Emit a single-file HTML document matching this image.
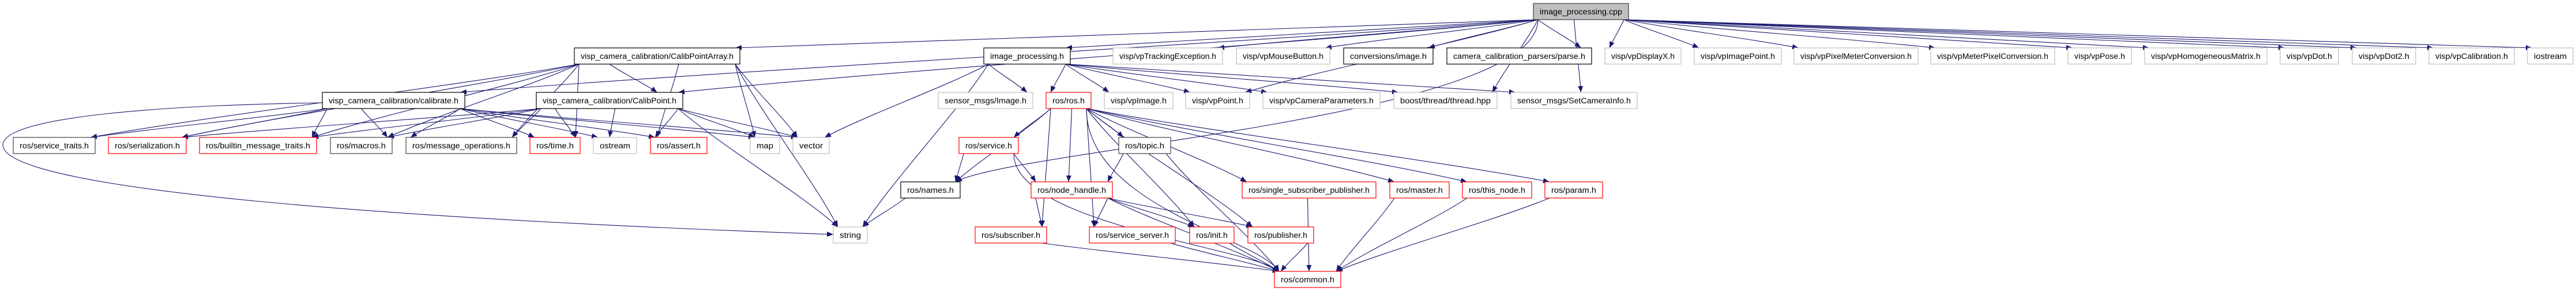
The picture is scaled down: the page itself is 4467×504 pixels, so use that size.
<!DOCTYPE html>
<html><head><meta charset="utf-8"><style>
html,body{margin:0;padding:0;background:#fff;}
svg{display:block;}
text{font-family:"Liberation Sans",Arial,sans-serif;font-size:13.5px;fill:#000;}
</style></head><body>
<svg id="g" width="4467" height="504" viewBox="0 0 4467 504" xmlns="http://www.w3.org/2000/svg">
<defs><marker id="ah" markerUnits="userSpaceOnUse" markerWidth="12" markerHeight="9" refX="11" refY="4.5" orient="auto"><path d="M0,0 L11,4.5 L0,9 z" fill="#191970"/></marker></defs>
<g fill="none" stroke="#191970" stroke-width="1.1"><path d="M559,178 C300,182 10,200 5,250 C0,330 700,380 1445,406" marker-end="url(#ah)"/></g>
<g id="edges" fill="none" stroke="#191970" stroke-width="1.1"></g>
<g id="nodes" stroke-width="1.2">
<rect x="2659" y="6" width="165" height="28" fill="#bfbfbf" stroke="#404040"/><text x="2670" y="25" textLength="143" lengthAdjust="spacingAndGlyphs">image_processing.cpp</text>
<rect x="996" y="83" width="287" height="28" fill="#fff" stroke="#000"/><text x="1007" y="102" textLength="265" lengthAdjust="spacingAndGlyphs">visp_camera_calibration/CalibPointArray.h</text>
<rect x="1706" y="83" width="150" height="28" fill="#fff" stroke="#000"/><text x="1717" y="102" textLength="128" lengthAdjust="spacingAndGlyphs">image_processing.h</text>
<rect x="1930" y="83" width="190" height="28" fill="#fff" stroke="#bfbfbf"/><text x="1941" y="102" textLength="168" lengthAdjust="spacingAndGlyphs">visp/vpTrackingException.h</text>
<rect x="2144" y="83" width="162" height="28" fill="#fff" stroke="#bfbfbf"/><text x="2155" y="102" textLength="140" lengthAdjust="spacingAndGlyphs">visp/vpMouseButton.h</text>
<rect x="2330" y="83" width="155" height="28" fill="#fff" stroke="#000"/><text x="2341" y="102" textLength="133" lengthAdjust="spacingAndGlyphs">conversions/image.h</text>
<rect x="2509" y="83" width="251" height="28" fill="#fff" stroke="#000"/><text x="2520" y="102" textLength="229" lengthAdjust="spacingAndGlyphs">camera_calibration_parsers/parse.h</text>
<rect x="2783" y="83" width="132" height="28" fill="#fff" stroke="#bfbfbf"/><text x="2794" y="102" textLength="110" lengthAdjust="spacingAndGlyphs">visp/vpDisplayX.h</text>
<rect x="2938" y="83" width="151" height="28" fill="#fff" stroke="#bfbfbf"/><text x="2949" y="102" textLength="129" lengthAdjust="spacingAndGlyphs">visp/vpImagePoint.h</text>
<rect x="3111" y="83" width="215" height="28" fill="#fff" stroke="#bfbfbf"/><text x="3122" y="102" textLength="193" lengthAdjust="spacingAndGlyphs">visp/vpPixelMeterConversion.h</text>
<rect x="3348" y="83" width="215" height="28" fill="#fff" stroke="#bfbfbf"/><text x="3359" y="102" textLength="193" lengthAdjust="spacingAndGlyphs">visp/vpMeterPixelConversion.h</text>
<rect x="3586" y="83" width="110" height="28" fill="#fff" stroke="#bfbfbf"/><text x="3597" y="102" textLength="88" lengthAdjust="spacingAndGlyphs">visp/vpPose.h</text>
<rect x="3719" y="83" width="212" height="28" fill="#fff" stroke="#bfbfbf"/><text x="3730" y="102" textLength="190" lengthAdjust="spacingAndGlyphs">visp/vpHomogeneousMatrix.h</text>
<rect x="3954" y="83" width="101" height="28" fill="#fff" stroke="#bfbfbf"/><text x="3965" y="102" textLength="79" lengthAdjust="spacingAndGlyphs">visp/vpDot.h</text>
<rect x="4079" y="83" width="110" height="28" fill="#fff" stroke="#bfbfbf"/><text x="4090" y="102" textLength="88" lengthAdjust="spacingAndGlyphs">visp/vpDot2.h</text>
<rect x="4212" y="83" width="148" height="28" fill="#fff" stroke="#bfbfbf"/><text x="4223" y="102" textLength="126" lengthAdjust="spacingAndGlyphs">visp/vpCalibration.h</text>
<rect x="4383" y="83" width="79" height="28" fill="#fff" stroke="#bfbfbf"/><text x="4394" y="102" textLength="57" lengthAdjust="spacingAndGlyphs">iostream</text>
<rect x="559" y="160" width="247" height="28" fill="#fff" stroke="#000"/><text x="570" y="179" textLength="225" lengthAdjust="spacingAndGlyphs">visp_camera_calibration/calibrate.h</text>
<rect x="930" y="160" width="254" height="28" fill="#fff" stroke="#000"/><text x="941" y="179" textLength="232" lengthAdjust="spacingAndGlyphs">visp_camera_calibration/CalibPoint.h</text>
<rect x="1627" y="160" width="164" height="28" fill="#fff" stroke="#bfbfbf"/><text x="1638" y="179" textLength="142" lengthAdjust="spacingAndGlyphs">sensor_msgs/Image.h</text>
<rect x="1814" y="160" width="78" height="28" fill="#fff" stroke="#f00"/><text x="1825" y="179" textLength="56" lengthAdjust="spacingAndGlyphs">ros/ros.h</text>
<rect x="1915" y="160" width="119" height="28" fill="#fff" stroke="#bfbfbf"/><text x="1926" y="179" textLength="97" lengthAdjust="spacingAndGlyphs">visp/vpImage.h</text>
<rect x="2056" y="160" width="111" height="28" fill="#fff" stroke="#bfbfbf"/><text x="2067" y="179" textLength="89" lengthAdjust="spacingAndGlyphs">visp/vpPoint.h</text>
<rect x="2190" y="160" width="203" height="28" fill="#fff" stroke="#bfbfbf"/><text x="2201" y="179" textLength="181" lengthAdjust="spacingAndGlyphs">visp/vpCameraParameters.h</text>
<rect x="2417" y="160" width="179" height="28" fill="#fff" stroke="#bfbfbf"/><text x="2428" y="179" textLength="157" lengthAdjust="spacingAndGlyphs">boost/thread/thread.hpp</text>
<rect x="2620" y="160" width="219" height="28" fill="#fff" stroke="#bfbfbf"/><text x="2631" y="179" textLength="197" lengthAdjust="spacingAndGlyphs">sensor_msgs/SetCameraInfo.h</text>
<rect x="23" y="238" width="142" height="28" fill="#fff" stroke="#404040"/><text x="34" y="257" textLength="120" lengthAdjust="spacingAndGlyphs">ros/service_traits.h</text>
<rect x="188" y="238" width="135" height="28" fill="#fff" stroke="#f00"/><text x="199" y="257" textLength="113" lengthAdjust="spacingAndGlyphs">ros/serialization.h</text>
<rect x="346" y="238" width="203" height="28" fill="#fff" stroke="#f00"/><text x="357" y="257" textLength="181" lengthAdjust="spacingAndGlyphs">ros/builtin_message_traits.h</text>
<rect x="573" y="238" width="107" height="28" fill="#fff" stroke="#404040"/><text x="584" y="257" textLength="85" lengthAdjust="spacingAndGlyphs">ros/macros.h</text>
<rect x="704" y="238" width="192" height="28" fill="#fff" stroke="#404040"/><text x="715" y="257" textLength="170" lengthAdjust="spacingAndGlyphs">ros/message_operations.h</text>
<rect x="919" y="238" width="87" height="28" fill="#fff" stroke="#f00"/><text x="930" y="257" textLength="65" lengthAdjust="spacingAndGlyphs">ros/time.h</text>
<rect x="1029" y="238" width="75" height="28" fill="#fff" stroke="#bfbfbf"/><text x="1040" y="257" textLength="53" lengthAdjust="spacingAndGlyphs">ostream</text>
<rect x="1128" y="238" width="98" height="28" fill="#fff" stroke="#f00"/><text x="1139" y="257" textLength="76" lengthAdjust="spacingAndGlyphs">ros/assert.h</text>
<rect x="1301" y="238" width="51" height="28" fill="#fff" stroke="#bfbfbf"/><text x="1312" y="257" textLength="29" lengthAdjust="spacingAndGlyphs">map</text>
<rect x="1375" y="238" width="63" height="28" fill="#fff" stroke="#bfbfbf"/><text x="1386" y="257" textLength="41" lengthAdjust="spacingAndGlyphs">vector</text>
<rect x="1663" y="238" width="103" height="28" fill="#fff" stroke="#f00"/><text x="1674" y="257" textLength="81" lengthAdjust="spacingAndGlyphs">ros/service.h</text>
<rect x="1940" y="238" width="90" height="28" fill="#fff" stroke="#404040"/><text x="1951" y="257" textLength="68" lengthAdjust="spacingAndGlyphs">ros/topic.h</text>
<rect x="1562" y="315" width="103" height="28" fill="#fff" stroke="#000"/><text x="1573" y="334" textLength="81" lengthAdjust="spacingAndGlyphs">ros/names.h</text>
<rect x="1788" y="315" width="141" height="28" fill="#fff" stroke="#f00"/><text x="1799" y="334" textLength="119" lengthAdjust="spacingAndGlyphs">ros/node_handle.h</text>
<rect x="2154" y="315" width="232" height="28" fill="#fff" stroke="#f00"/><text x="2165" y="334" textLength="210" lengthAdjust="spacingAndGlyphs">ros/single_subscriber_publisher.h</text>
<rect x="2410" y="315" width="103" height="28" fill="#fff" stroke="#f00"/><text x="2421" y="334" textLength="81" lengthAdjust="spacingAndGlyphs">ros/master.h</text>
<rect x="2536" y="315" width="120" height="28" fill="#fff" stroke="#f00"/><text x="2547" y="334" textLength="98" lengthAdjust="spacingAndGlyphs">ros/this_node.h</text>
<rect x="2679" y="315" width="100" height="28" fill="#fff" stroke="#f00"/><text x="2690" y="334" textLength="78" lengthAdjust="spacingAndGlyphs">ros/param.h</text>
<rect x="1445" y="393" width="59" height="28" fill="#fff" stroke="#bfbfbf"/><text x="1456" y="412" textLength="37" lengthAdjust="spacingAndGlyphs">string</text>
<rect x="1691" y="393" width="124" height="28" fill="#fff" stroke="#f00"/><text x="1702" y="412" textLength="102" lengthAdjust="spacingAndGlyphs">ros/subscriber.h</text>
<rect x="1889" y="393" width="149" height="28" fill="#fff" stroke="#f00"/><text x="1900" y="412" textLength="127" lengthAdjust="spacingAndGlyphs">ros/service_server.h</text>
<rect x="2063" y="393" width="77" height="28" fill="#fff" stroke="#f00"/><text x="2074" y="412" textLength="55" lengthAdjust="spacingAndGlyphs">ros/init.h</text>
<rect x="2164" y="393" width="114" height="28" fill="#fff" stroke="#f00"/><text x="2175" y="412" textLength="92" lengthAdjust="spacingAndGlyphs">ros/publisher.h</text>
<rect x="2210" y="470" width="115" height="28" fill="#fff" stroke="#f00"/><text x="2221" y="489" textLength="93" lengthAdjust="spacingAndGlyphs">ros/common.h</text>
</g>
</svg>
<script>
var N={cpp:[2659,2824,6],CPA:[996,1283,83],IPH:[1706,1856,83],TE:[1930,2120,83],MB:[2144,2306,83],CI:[2330,2485,83],PA:[2509,2760,83],DX:[2783,2915,83],IP:[2938,3089,83],PM:[3111,3326,83],MP:[3348,3563,83],PO:[3586,3696,83],HM:[3719,3931,83],DO:[3954,4055,83],D2:[4079,4189,83],CA:[4212,4360,83],IO:[4383,4462,83],
CB:[559,806,160],CP:[930,1184,160],SI:[1627,1791,160],RR:[1814,1892,160],VI:[1915,2034,160],VP:[2056,2167,160],CM:[2190,2393,160],BT:[2417,2596,160],SC:[2620,2839,160],
ST:[23,165,238],SE:[188,323,238],BM:[346,549,238],MA:[573,680,238],MO:[704,896,238],TI:[919,1006,238],OS:[1029,1104,238],AS:[1128,1226,238],MP2:[1301,1352,238],VE:[1375,1438,238],SV:[1663,1766,238],TO:[1940,2030,238],
NA:[1562,1665,315],NH:[1788,1929,315],SS:[2154,2386,315],MS:[2410,2513,315],TN:[2536,2656,315],PR:[2679,2779,315],
STR:[1445,1504,393],SU:[1691,1815,393],SR:[1889,2038,393],IN:[2063,2140,393],PU:[2164,2278,393],CO:[2210,2325,470]};
var E=[['cpp','CPA'],['cpp','IPH'],['cpp','TE'],['cpp','MB'],['cpp','CI'],['cpp','PA'],['cpp','DX'],['cpp','IP'],['cpp','PM'],['cpp','MP'],['cpp','PO'],['cpp','HM'],['cpp','DO'],['cpp','D2'],['cpp','CA'],['cpp','IO'],['cpp','CB'],['cpp','CP'],['cpp','NA'],['cpp','VP'],['cpp','BT'],['cpp','SC'],
['IPH','SI'],['IPH','VE'],['IPH','STR'],['IPH','RR'],['IPH','VI'],['IPH','VP'],['IPH','CM'],['IPH','BT'],['IPH','SC'],
['CPA','CP'],['CPA','SE'],['CPA','BM'],['CPA','ST'],['CPA','MA'],['CPA','MO'],['CPA','TI'],['CPA','AS'],['CPA','MP2'],['CPA','VE'],['CPA','STR'],
['CP','SE'],['CP','BM'],['CP','MA'],['CP','MO'],['CP','TI'],['CP','OS'],['CP','AS'],['CP','MP2'],['CP','VE'],['CP','STR'],
['CB','ST'],['CB','SE'],['CB','BM'],['CB','MA'],['CB','MO'],['CB','TI'],['CB','OS'],['CB','AS'],['CB','MP2'],['CB','VE'],
['RR','SV'],['RR','NA'],['RR','NH'],['RR','TO'],['RR','SR'],['RR','IN'],['RR','PU'],['RR','SS'],['RR','MS'],['RR','TN'],['RR','PR'],['RR','CO'],['RR','SU'],
['SV','NA'],['SV','NH'],['SV','CO'],['NA','STR'],['TO','NH'],['TO','CO'],
['NH','SU'],['NH','SR'],['NH','IN'],['NH','PU'],['NH','CO'],
['SS','CO'],['MS','CO'],['TN','CO'],['PR','CO'],['SU','CO'],['SR','CO'],['IN','CO'],['PU','CO']];
function cl(v,a,b){return Math.max(a,Math.min(b,v));}
var g=document.getElementById('edges'),s='';
E.forEach(function(e){var a=N[e[0]],b=N[e[1]];
var ac=(a[0]+a[1])/2,bc=(b[0]+b[1])/2;
var sx=cl(bc,a[0]+8,a[1]-8),sy=a[2]+28;
var tx=cl(ac,b[0]+8,b[1]-8),ty=b[2];
var dy=ty-sy,dx=tx-sx;
var p;
if(b[2]-a[2]>160&&Math.abs(dx)>300){p='M'+sx+','+sy+' C'+sx+','+(sy+dy*0.6)+' '+(tx-dx*0.1)+','+(ty-dy*0.2)+' '+tx+','+ty;}
else{p='M'+sx+','+sy+' C'+(sx+dx*0.25)+','+(sy+dy*0.3)+' '+(sx+dx*0.75)+','+(sy+dy*0.7)+' '+tx+','+ty;}
s+='<path d="'+p+'" marker-end="url(#ah)"/>';});
g.innerHTML=s;
</script>
</body></html>
